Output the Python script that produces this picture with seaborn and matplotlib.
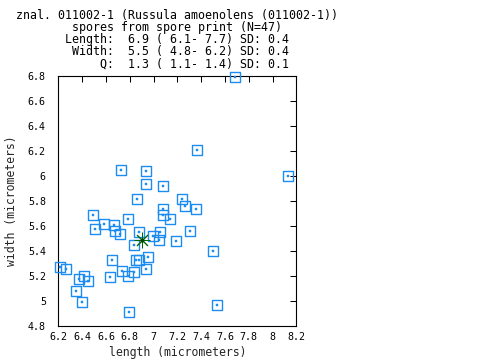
import matplotlib
matplotlib.use("Agg")
import matplotlib.pyplot as plt
import seaborn as sns
import pandas as pd

length = [7.685, 7.368, 8.133, 6.729, 6.939, 6.939, 7.082, 6.864, 7.242, 7.267,
          7.360, 7.082, 7.082, 6.494, 7.141, 6.788, 6.587, 6.671, 6.511, 6.679,
          7.309, 6.881, 7.055, 6.721, 6.993, 7.049, 7.187, 6.839, 7.503, 6.956,
          6.654, 6.856, 6.878, 6.217, 6.267, 6.939, 6.738, 6.839, 6.418, 6.788,
          6.637, 6.376, 6.452, 6.351, 6.402, 7.536, 6.797]
width = [6.792, 6.206, 5.998, 6.046, 6.038, 5.934, 5.918, 5.814, 5.814, 5.760,
         5.734, 5.734, 5.686, 5.686, 5.654, 5.654, 5.614, 5.606, 5.574, 5.558,
         5.558, 5.550, 5.550, 5.534, 5.518, 5.486, 5.478, 5.448, 5.398, 5.350,
         5.326, 5.326, 5.326, 5.270, 5.254, 5.254, 5.237, 5.230, 5.198, 5.198,
         5.190, 5.174, 5.160, 5.078, 4.990, 4.966, 4.910]
mean_length = [6.9]
mean_width = [5.49]

title_lines = [
    "znal. 011002-1 (Russula amoenolens (011002-1))",
    "spores from spore print (N=47)",
    "Length:  6.9 ( 6.1- 7.7) SD: 0.4",
    " Width:  5.5 ( 4.8- 6.2) SD: 0.4",
    "     Q:  1.3 ( 1.1- 1.4) SD: 0.1",
]
x_ticks = [6.2, 6.4, 6.6, 6.8, 7.0, 7.2, 7.4, 7.6, 7.8, 8.0, 8.2]
x_tick_labels = ["6.2", "6.4", "6.6", "6.8", "7", "7.2", "7.4", "7.6", "7.8", "8", "8.2"]
y_ticks = [4.8, 5.0, 5.2, 5.4, 5.6, 5.8, 6.0, 6.2, 6.4, 6.6, 6.8]
y_tick_labels = ["4.8", "5", "5.2", "5.4", "5.6", "5.8", "6", "6.2", "6.4", "6.6", "6.8"]

spores = pd.DataFrame({"length": length, "width": width})
means = pd.DataFrame({"length": mean_length, "width": mean_width})

sns.set_theme(style="white")
plt.rcParams["font.family"] = ["DejaVu Sans Mono"]

blue = "#1c8cf0"
green = "#006400"

fig = plt.figure(figsize=(4.8, 3.6), dpi=100)
ax = fig.add_axes([0.1215, 0.0944, 0.4958, 0.6936])

# open squares with a small dot in the middle
sns.scatterplot(data=spores, x="length", y="width", marker="s", s=52,
                facecolor="none", edgecolor=blue, linewidth=1.0,
                clip_on=False, ax=ax, zorder=3)
sns.scatterplot(data=spores, x="length", y="width", marker="s", s=0.6,
                color=blue, edgecolor=blue, linewidth=0.3,
                clip_on=False, ax=ax, zorder=4)

# mean as a star
sns.scatterplot(data=means, x="length", y="width", marker=(8, 2, 0), s=115,
                color=green, edgecolor=green, linewidth=0.7, ax=ax, zorder=5)
sns.scatterplot(data=means, x="length", y="width", marker="o", s=8,
                color="#004000", edgecolor="#004000", linewidth=0, ax=ax, zorder=6)

ax.set_xlim(6.2, 8.2)
ax.set_ylim(4.8, 6.8)
ax.set_xticks(x_ticks)
ax.set_xticklabels(x_tick_labels)
ax.set_yticks(y_ticks)
ax.set_yticklabels(y_tick_labels)
ax.tick_params(axis="both", direction="in", top=True, right=True,
               length=4, width=0.75, labelsize=7.2, colors="black")
ax.tick_params(axis="x", pad=4)
ax.tick_params(axis="y", pad=9)
for sp in ax.spines.values():
    sp.set_linewidth(0.8)
    sp.set_color("black")

ax.set_xlabel("length (micrometers)", fontsize=8.3, labelpad=3)
ax.set_ylabel("width (micrometers)", fontsize=8.3, labelpad=7)

# header text block
fig.text(0.369, 1 - 9.5 / 360, "\n".join(title_lines), ha="center", va="top",
         multialignment="center", fontsize=8.4, linespacing=0.9, color="black")

fig.savefig("out.png", dpi=100)
